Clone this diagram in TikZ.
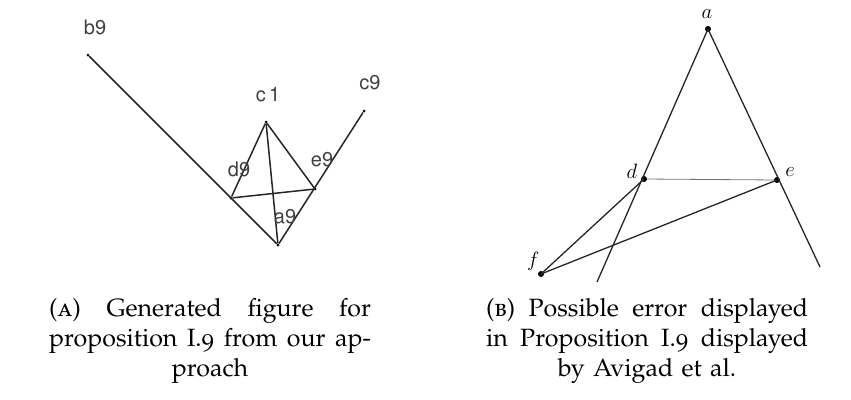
\documentclass[tikz,border=0pt]{standalone}
\usepackage[T1]{fontenc}
\usepackage[osf,sc]{mathpazo}
\newcommand{\cmit}[1]{{\usefont{OML}{cmm}{m}{it}#1}}
\begin{document}
\begin{tikzpicture}[x=1pt,y=-1pt,
  ln/.style={line width=1.5pt,black!85},
  rl/.style={line width=1.3pt,black!85},
  pt/.style={circle,fill=black,inner sep=0pt,minimum size=3pt},
  rpt/.style={circle,fill=black,inner sep=0pt,minimum size=6pt},
  lab/.style={font=\fontsize{20}{20}\fontfamily{phv}\selectfont,text=black!75,inner sep=0pt},
  rlab/.style={font=\fontsize{21}{21}\selectfont,inner sep=0pt},
  captext/.style={font=\fontsize{25}{30}\selectfont,text width=322pt,align=center,inner sep=0pt,anchor=north}]
\useasboundingbox (0,0) rectangle (851,399);
% left figure
\node[pt] (b9) at (88,55) {};
\node[pt] (c1) at (266,122) {};
\node[pt] (c9) at (364,111) {};
\node[pt] (d9) at (231,198) {};
\node[pt] (e9) at (315,189) {};
\node[pt] (a9) at (278,245) {};
\draw[ln] (b9) -- (a9) -- (c9);
\draw[ln] (d9) -- (c1) -- (e9);
\draw[ln] (c1) -- (a9);
\draw[ln] (d9) -- (e9);
\node[lab] (lb9) at (95,28) {b9};
\node[lab] (lc1) at (268,94) {c\,1};
\node[lab] (lc9) at (370,83) {c9};
\node[lab] (ld9) at (239,170) {d9};
\node[lab] (le9) at (322,160) {e9};
\node[lab] (la9) at (285,217) {a9};
% right figure
\node[rpt] (a) at (708,29) {};
\node[rpt] (d) at (644,179) {};
\node[rpt] (e) at (777,180) {};
\node[rpt] (f) at (541,274) {};
\coordinate (dend) at (597,282);
\coordinate (eend) at (820,267);
\draw[rl] (a.center) -- (dend);
\draw[rl] (a.center) -- (eend);
\draw[line width=0.8pt,black!55] (d) -- (e);
\draw[rl] (f.center) -- (d.center);
\draw[rl] (f.center) -- (e.center);
\node[rlab] (la) at (707,14) {\cmit{a}};
\node[rlab] (ld) at (632,171) {\cmit{d}};
\node[rlab] (le) at (790,172) {\cmit{e}};
\node[rlab] (lf) at (532,261) {\cmit{f}};
% captions
\node[captext] (capA) at (210,298) {\leavevmode\hbox to 322pt{(\textsc{a})\hfill Generated\hfill figure\hfill for}\\
\leavevmode\hbox to 322pt{proposition\hfill I.9\hfill from\hfill our\hfill ap-}\\proach};
\node[captext] (capB) at (647,298) {\leavevmode\hbox to 322pt{(\textsc{b})\hfill Possible\hfill error\hfill displayed}\\
\leavevmode\hbox to 322pt{in\hfill Proposition\hfill I.9\hfill displayed}\\by Avigad et al.};
\end{tikzpicture}
\end{document}
